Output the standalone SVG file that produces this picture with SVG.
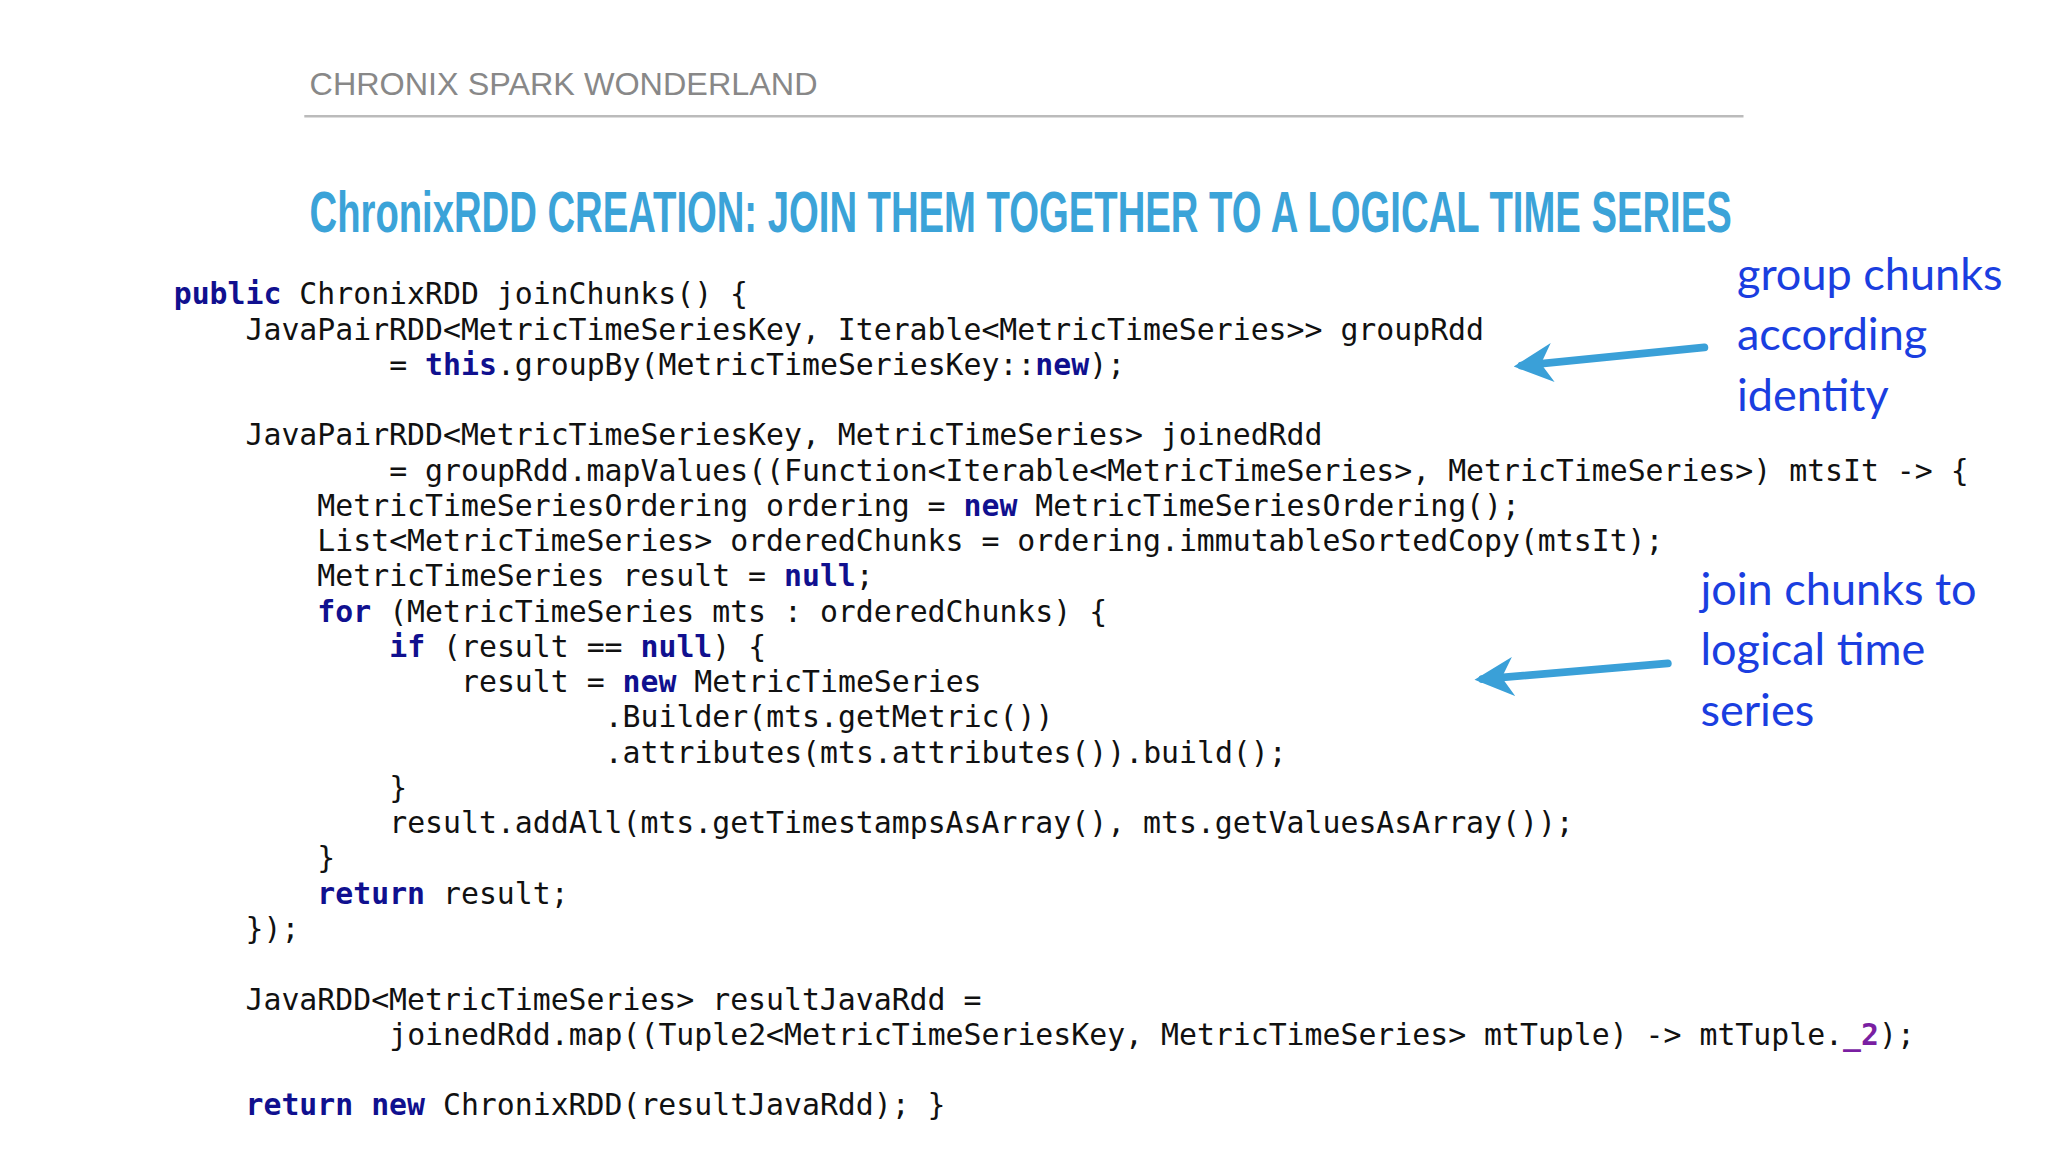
<svg xmlns="http://www.w3.org/2000/svg" width="2048" height="1152" viewBox="0 0 2048 1152">
<style>
.c{font-family:"DejaVu Sans Mono",monospace;font-size:22.84px;fill:#111;white-space:pre}
.k{fill:#10108f;font-weight:bold}
.n{font-family:Lato,"Open Sans",sans-serif;font-size:34.5px;fill:#1a3ee0}
.ar{stroke:#3aa0d8;stroke-width:6;fill:none;stroke-linecap:round}
</style>
<defs><marker id="ah" viewBox="0 0 10 10" refX="8" refY="5" markerWidth="5" markerHeight="5" orient="auto"><path d="M0,0L10,5L0,10L3,5Z" fill="#3aa0d8"/></marker></defs>
<rect width="2048" height="1152" fill="#fff"/>
<g transform="scale(1.306)">
<g id="header">
<text x="237" y="73" textLength="389" lengthAdjust="spacingAndGlyphs" style="font-family:'Liberation Sans',sans-serif;font-size:24px;fill:#888">CHRONIX SPARK WONDERLAND</text>
<line x1="233" y1="89" x2="1335" y2="89" stroke="#bbb" stroke-width="2"/>
</g>
<g id="title"><text x="237" y="178" textLength="1089" lengthAdjust="spacingAndGlyphs" style="font-family:'Liberation Sans',sans-serif;font-weight:bold;font-size:44px;fill:#3ba3d8">ChronixRDD CREATION: JOIN THEM TOGETHER TO A LOGICAL TIME SERIES</text></g>
<g id="code" class="c">
<text x="133" y="233"><tspan class="k">public</tspan> ChronixRDD joinChunks() {</text>
<text x="188" y="260">JavaPairRDD&lt;MetricTimeSeriesKey, Iterable&lt;MetricTimeSeries&gt;&gt; groupRdd</text>
<text x="298" y="287">= <tspan class="k">this</tspan>.groupBy(MetricTimeSeriesKey::<tspan class="k">new</tspan>);</text>
<text x="188" y="341">JavaPairRDD&lt;MetricTimeSeriesKey, MetricTimeSeries&gt; joinedRdd</text>
<text x="298" y="368">= groupRdd.mapValues((Function&lt;Iterable&lt;MetricTimeSeries&gt;, MetricTimeSeries&gt;) mtsIt -&gt; {</text>
<text x="243" y="395">MetricTimeSeriesOrdering ordering = <tspan class="k">new</tspan> MetricTimeSeriesOrdering();</text>
<text x="243" y="422">List&lt;MetricTimeSeries&gt; orderedChunks = ordering.immutableSortedCopy(mtsIt);</text>
<text x="243" y="449">MetricTimeSeries result = <tspan class="k">null</tspan>;</text>
<text x="243" y="476"><tspan class="k">for</tspan> (MetricTimeSeries mts : orderedChunks) {</text>
<text x="298" y="503"><tspan class="k">if</tspan> (result == <tspan class="k">null</tspan>) {</text>
<text x="353" y="530">result = <tspan class="k">new</tspan> MetricTimeSeries</text>
<text x="463" y="557">.Builder(mts.getMetric())</text>
<text x="463" y="584">.attributes(mts.attributes()).build();</text>
<text x="298" y="611">}</text>
<text x="298" y="638">result.addAll(mts.getTimestampsAsArray(), mts.getValuesAsArray());</text>
<text x="243" y="665">}</text>
<text x="243" y="692"><tspan class="k">return</tspan> result;</text>
<text x="188" y="719">});</text>
<text x="188" y="773">JavaRDD&lt;MetricTimeSeries&gt; resultJavaRdd =</text>
<text x="298" y="800">joinedRdd.map((Tuple2&lt;MetricTimeSeriesKey, MetricTimeSeries&gt; mtTuple) -&gt; mtTuple.<tspan style="fill:#7a1fa2;font-weight:bold">_2</tspan>);</text>
<text x="188" y="854"><tspan class="k">return new</tspan> ChronixRDD(resultJavaRdd); }</text>
</g>
<g id="note1" class="n">
<text x="1330" y="222">group chunks</text>
<text x="1330" y="268">according</text>
<text x="1330" y="315">identity</text>
</g>
<g id="note2" class="n">
<text x="1302" y="463">join chunks to</text>
<text x="1302" y="509">logical time</text>
<text x="1302" y="556">series</text>
</g>
<g id="connectors">
<path class="ar" d="M1305,266 L1165,280" marker-end="url(#ah)"/>
<path class="ar" d="M1277,508 L1135,520" marker-end="url(#ah)"/>
</g>
</g>
</svg>
